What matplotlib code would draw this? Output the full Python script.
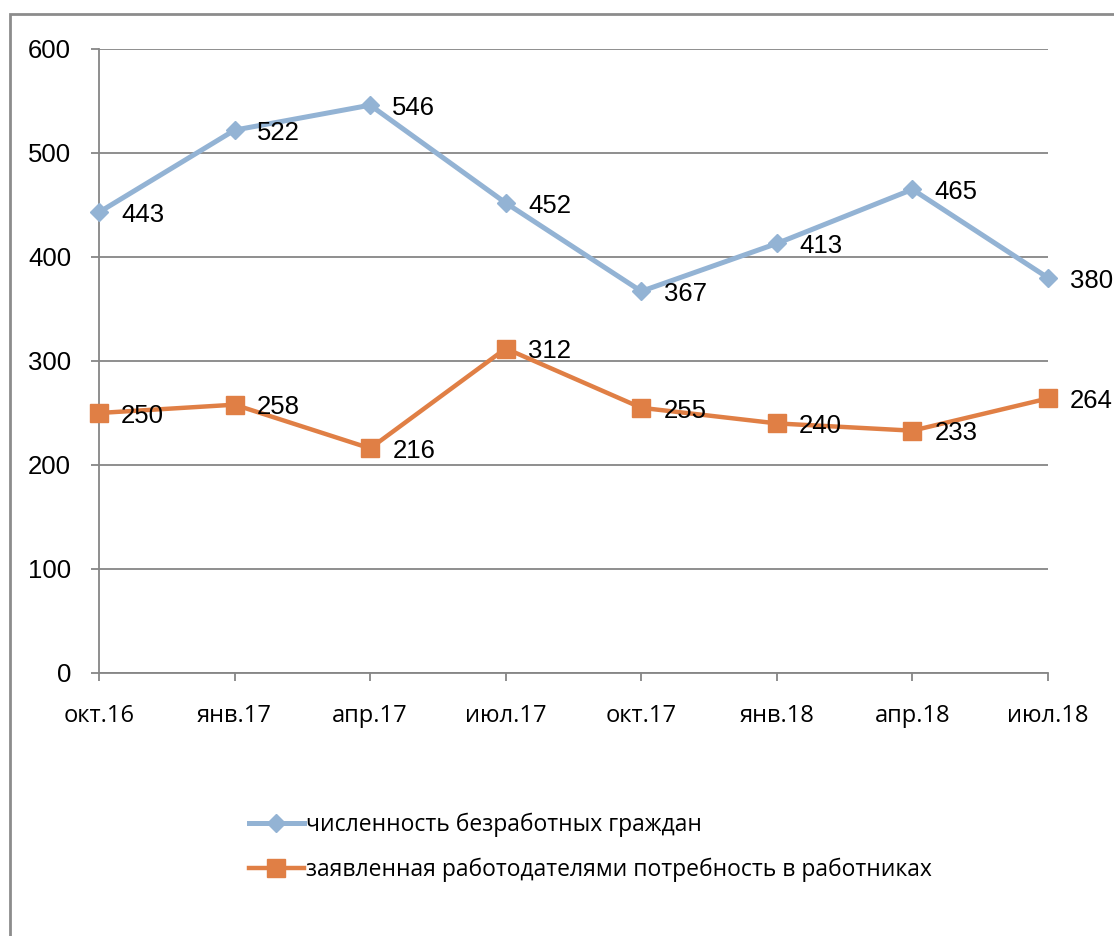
import matplotlib.pyplot as plt
from matplotlib.patches import Rectangle

# data
months = ['окт.16', 'янв.17', 'апр.17', 'июл.17', 'окт.17', 'янв.18', 'апр.18', 'июл.18']
unemployed = [443, 522, 546, 452, 367, 413, 465, 380]
demand = [250, 258, 216, 312, 255, 240, 233, 264]
name_unemployed = 'численность безработных граждан'
name_demand = 'заявленная работодателями потребность в работниках'

blue = '#93b3d4'
orange = '#e07f45'
grid_gray = '#868686'

fig = plt.figure(figsize=(11.14, 9.36), dpi=100)
ax = fig.add_axes([99 / 1114, 1 - 673 / 936, (1048 - 99) / 1114, (673 - 49) / 936])

# outer chart frame
fig.patches.append(Rectangle((10 / 1114, -0.1), 1.2, 1 - 14 / 936 + 0.1,
                             transform=fig.transFigure, fill=False,
                             edgecolor='#8c8c8c', linewidth=2))

x = list(range(len(months)))
ax.plot(x, unemployed, color=blue, linewidth=3.6, marker='D', markersize=9,
        clip_on=False, zorder=3, label=name_unemployed)
ax.plot(x, demand, color=orange, linewidth=3.2, marker='s', markersize=13,
        clip_on=False, zorder=3, label=name_demand)

for xi, v in zip(x, unemployed):
    ax.annotate(str(v), (xi, v), xytext=(16, -2), textcoords='offset points',
                ha='left', va='center', fontsize=18.5, family='Liberation Sans')
for xi, v in zip(x, demand):
    ax.annotate(str(v), (xi, v), xytext=(16, -2), textcoords='offset points',
                ha='left', va='center', fontsize=18.5, family='Liberation Sans')

ax.set_xlim(0, 7)
ax.set_ylim(0, 600)
ax.set_yticks(range(0, 601, 100))
ax.set_xticks(x)
ax.set_xticklabels(months, family='Open Sans', fontsize=17)
for lbl in ax.get_yticklabels():
    lbl.set_family('Liberation Sans')
    lbl.set_fontsize(18.5)

ax.yaxis.grid(True, color=grid_gray, linewidth=1.3)
ax.set_axisbelow(True)
for s in ['top', 'right']:
    ax.spines[s].set_visible(False)
for s in ['left', 'bottom']:
    ax.spines[s].set_color(grid_gray)
    ax.spines[s].set_linewidth(1.3)
ax.tick_params(axis='both', direction='out', length=6, width=1.3, color=grid_gray)
ax.tick_params(axis='y', pad=14)
ax.tick_params(axis='x', pad=16)

fig.legend(loc='upper left', bbox_to_anchor=(228 / 1114, 1 - 792 / 936),
           frameon=False, prop={'family': 'Open Sans', 'size': 16.5},
           handlelength=2.4, handletextpad=0.1, labelspacing=0.9)

fig.savefig('out.png', dpi=100)
